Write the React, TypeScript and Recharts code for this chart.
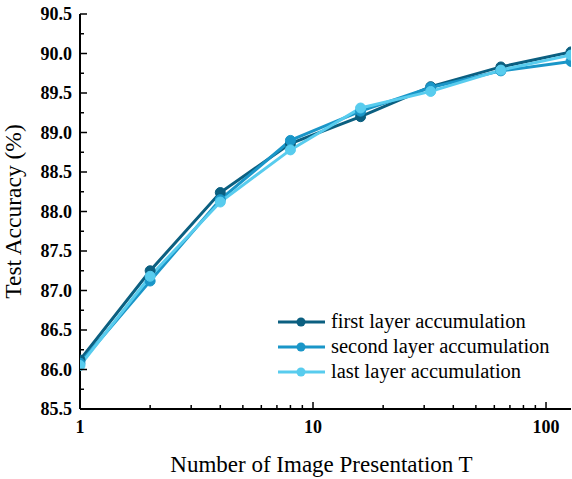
import React from 'react';
import { LineChart, Line, XAxis, YAxis, Legend } from 'recharts';

const T = [1, 2, 4, 8, 16, 32, 64, 128];
const firstLayer = [86.12, 87.25, 88.24, 88.86, 89.2, 89.58, 89.83, 90.02];
const secondLayer = [86.08, 87.12, 88.15, 88.9, 89.27, 89.57, 89.78, 89.9];
const lastLayer = [86.05, 87.18, 88.12, 88.78, 89.31, 89.52, 89.79, 89.98];

const xMajorTicks = [1, 10, 100];
const xMinorTicks = [2, 3, 4, 5, 6, 7, 8, 9, 20, 30, 40, 50, 60, 70, 80, 90];
const yMajorTicks = [85.5, 86.0, 86.5, 87.0, 87.5, 88.0, 88.5, 89.0, 89.5, 90.0, 90.5];
const yMinorTicks = [85.75, 86.25, 86.75, 87.25, 87.75, 88.25, 88.75, 89.25, 89.75, 90.25];

const seriesNames = ['first layer accumulation', 'second layer accumulation', 'last layer accumulation'];
const seriesColors = ['#0b5f80', '#1a96c8', '#58ccee'];

const data = T.map((t, i) => ({ t, first: firstLayer[i], second: secondLayer[i], last: lastLayer[i] }));

const xAllTicks = [...xMajorTicks, ...xMinorTicks].sort((a, b) => a - b);
const yAllTicks = [...yMajorTicks, ...yMinorTicks].sort((a, b) => a - b);

const FONT = 'Liberation Serif';

const BottomTick = (props: any) => {
  const { x, y, payload } = props;
  const major = xMajorTicks.includes(payload.value);
  return (
    <g>
      <line x1={x} x2={x} y1={y} y2={y - (major ? 7 : 4)} stroke="#000" strokeWidth={1.5} />
      {major && (
        <text x={x} y={y + 24} textAnchor="middle" style={{ fontFamily: FONT, fontWeight: 'bold', fontSize: 18 }} fill="#000">
          {payload.value}
        </text>
      )}
    </g>
  );
};

const TopTick = (props: any) => {
  const { x, y, payload } = props;
  const major = xMajorTicks.includes(payload.value);
  return <line x1={x} x2={x} y1={y} y2={y + (major ? 7 : 4)} stroke="#000" strokeWidth={1.5} />;
};

const LeftTick = (props: any) => {
  const { x, y, payload } = props;
  const major = yMajorTicks.includes(payload.value);
  return (
    <g>
      <line x1={x} x2={x + (major ? 7 : 4)} y1={y} y2={y} stroke="#000" strokeWidth={1.5} />
      {major && (
        <text x={x - 8} y={y + 6} textAnchor="end" style={{ fontFamily: FONT, fontWeight: 'bold', fontSize: 18 }} fill="#000">
          {payload.value.toFixed(1)}
        </text>
      )}
    </g>
  );
};

const RightTick = (props: any) => {
  const { x, y, payload } = props;
  const major = yMajorTicks.includes(payload.value);
  return <line x1={x} x2={x - (major ? 7 : 4)} y1={y} y2={y} stroke="#000" strokeWidth={1.5} />;
};

const LegendContent = () => (
  <svg width={280} height={80}>
    {seriesNames.map((name, i) => {
      const cy = 12 + i * 25;
      return (
        <g key={name}>
          <line x1={3} x2={50} y1={cy} y2={cy} stroke={seriesColors[i]} strokeWidth={3} />
          <circle cx={26} cy={cy} r={4.5} fill={seriesColors[i]} />
          <text x={56} y={cy + 6} style={{ fontFamily: FONT, fontSize: 20.5 }} fill="#000">
            {name}
          </text>
        </g>
      );
    })}
  </svg>
);

const axisLine = { stroke: '#000', strokeWidth: 2 };

export default function App() {
  return (
    <div style={{ position: 'absolute', left: 0, top: 0, width: 572, height: 479, background: '#fff', fontFamily: FONT }}>
      <LineChart width={572} height={479} data={data} margin={{ top: 14, right: 1, bottom: 0, left: 0 }} style={{ fontFamily: FONT }}>
        <XAxis
          xAxisId="bottom"
          dataKey="t"
          type="number"
          scale="log"
          domain={[1, 128]}
          allowDataOverflow
          ticks={xAllTicks}
          interval={0}
          tickSize={0}
          tickMargin={0}
          tickLine={false}
          tick={<BottomTick />}
          axisLine={axisLine}
          height={70}
          label={{ value: 'Number of Image Presentation T', position: 'insideBottom', offset: 7, dx: -4, style: { fontFamily: FONT, fontSize: 23, fill: '#000' } }}
        />
        <XAxis
          xAxisId="top"
          orientation="top"
          dataKey="t"
          type="number"
          scale="log"
          domain={[1, 128]}
          allowDataOverflow
          ticks={xAllTicks}
          interval={0}
          tickSize={0}
          tickMargin={0}
          tickLine={false}
          tick={<TopTick />}
          axisLine={axisLine}
          height={0}
        />
        <YAxis
          yAxisId="left"
          type="number"
          domain={[85.5, 90.5]}
          allowDataOverflow
          ticks={yAllTicks}
          interval={0}
          tickSize={0}
          tickMargin={0}
          tickLine={false}
          tick={<LeftTick />}
          axisLine={axisLine}
          width={80}
          label={{ value: 'Test Accuracy (%)', angle: -90, position: 'insideLeft', offset: 13, style: { fontFamily: FONT, fontSize: 23.5, fill: '#000', textAnchor: 'middle' } }}
        />
        <YAxis
          yAxisId="right"
          orientation="right"
          type="number"
          domain={[85.5, 90.5]}
          allowDataOverflow
          ticks={yAllTicks}
          interval={0}
          tickSize={0}
          tickMargin={0}
          tickLine={false}
          tick={<RightTick />}
          axisLine={axisLine}
          width={0}
        />
        <Legend
          layout="vertical"
          align="center"
          verticalAlign="middle"
          content={<LegendContent />}
          wrapperStyle={{ position: 'absolute', left: 275, top: 310, width: 280, height: 80 }}
        />
        <Line xAxisId="bottom" yAxisId="left" dataKey="first" name={seriesNames[0]} stroke={seriesColors[0]} strokeWidth={3} dot={{ r: 5, fill: seriesColors[0], stroke: seriesColors[0], strokeWidth: 1 }} isAnimationActive={false} />
        <Line xAxisId="bottom" yAxisId="left" dataKey="second" name={seriesNames[1]} stroke={seriesColors[1]} strokeWidth={3} dot={{ r: 5, fill: seriesColors[1], stroke: seriesColors[1], strokeWidth: 1 }} isAnimationActive={false} />
        <Line xAxisId="bottom" yAxisId="left" dataKey="last" name={seriesNames[2]} stroke={seriesColors[2]} strokeWidth={3} dot={{ r: 5, fill: seriesColors[2], stroke: seriesColors[2], strokeWidth: 1 }} isAnimationActive={false} />
      </LineChart>
    </div>
  );
}
